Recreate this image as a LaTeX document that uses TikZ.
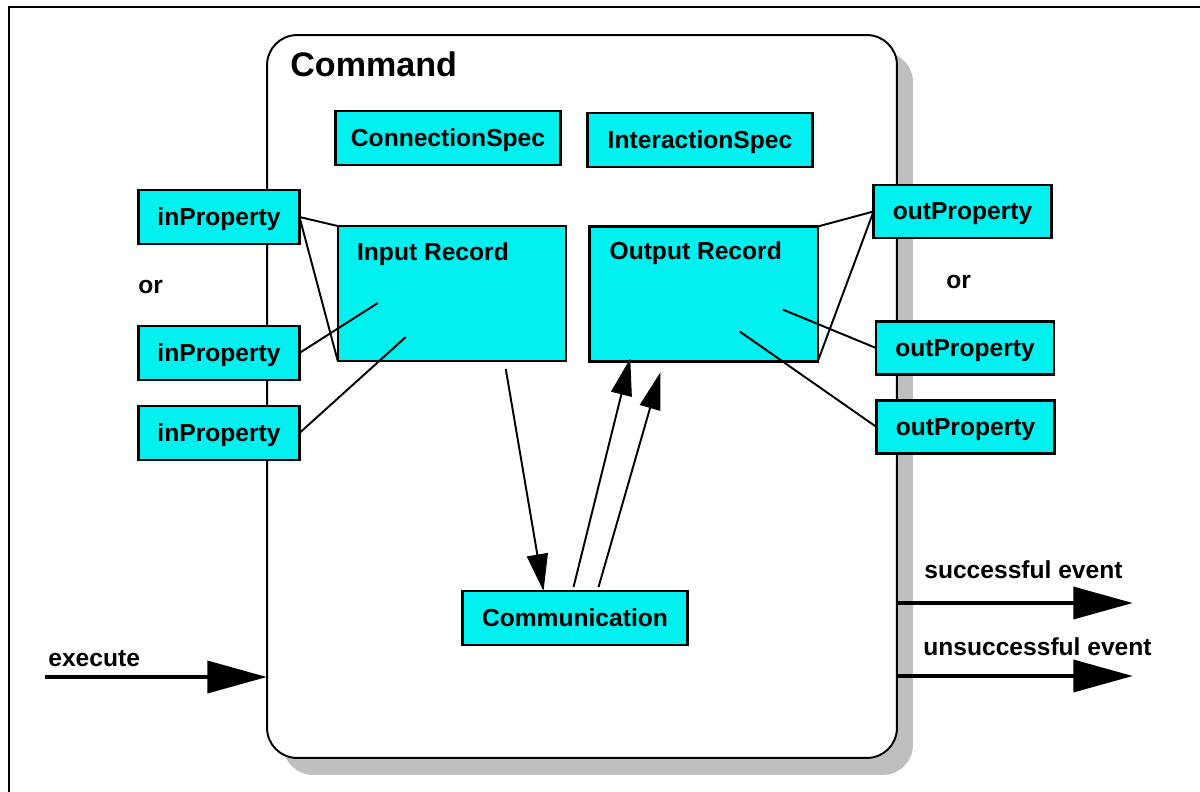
\documentclass[tikz,border=0pt]{standalone}
\usepackage{fontspec}
\setmainfont{Liberation Sans}
\usetikzlibrary{arrows.meta,calc,shadows}
\definecolor{boxcyan}{RGB}{0,240,240}
\begin{document}
\begin{tikzpicture}
[x=0.02cm, y=-0.02cm,
cmdbox/.style={rectangle,rounded corners=0.6cm,draw,line width=1.1pt,fill=white,outer sep=0pt,
  minimum width=12.6cm,minimum height=14.46cm,
  drop shadow={shadow xshift=0.32cm,shadow yshift=-0.34cm,fill=black!25,opacity=1}},
cyanbox/.style={rectangle,draw,line width=1.4pt,fill=boxcyan,inner sep=0pt,outer sep=0pt,
  text depth=0pt,font=\fontsize{14}{16}\selectfont\bfseries},
specbox/.style={cyanbox,minimum width=4.5cm,minimum height=1.08cm},
inprop/.style={cyanbox,minimum width=3.22cm,minimum height=1.08cm},
outprop/.style={cyanbox,minimum width=3.56cm,minimum height=1.06cm},
recbox/.style={cyanbox,minimum width=4.57cm,minimum height=2.7cm},
rectext/.style={anchor=west,inner sep=0pt,font=\fontsize{14}{16}\selectfont\bfseries},
label/.style={anchor=west,inner sep=0pt,font=\fontsize{14}{16}\selectfont\bfseries},
link/.style={line width=1.1pt},
flow/.style={line width=1.1pt,-{Triangle[length=21pt,width=12pt]}},
event/.style={line width=2.8pt,-{Triangle[length=34pt,width=18pt]}}
]
\useasboundingbox (0,0) rectangle (1200,791);
% frame
\draw[line width=0.9pt] (9,795) -- (9,7) -- (1205,7);

% command
\node[cmdbox] (cmd) at (582,396.5) {};
\node[anchor=west,inner sep=0pt,font=\fontsize{19.4}{22}\selectfont\bfseries] (cmdtitle) at (290,64) {Command};

\node[specbox] (conspec) at (448,138) {ConnectionSpec};
\node[specbox] (interspec) at (700,140) {InteractionSpec};

\node[recbox] (inrec) at (452,293.5) {};
\node[rectext] (inrectext) at ($(inrec.north west)+(19,28)$) {Input Record};
\node[recbox] (outrec) at (703.5,294) {};
\node[rectext] (outrectext) at ($(outrec.north west)+(20,27)$) {Output Record};

\node[specbox] (comm) at (575,618) {Communication};

% properties
\node[inprop] (inprop1) at (219,217) {inProperty};
\node[inprop] (inprop2) at (219,353) {inProperty};
\node[inprop] (inprop3) at (219,433) {inProperty};
\node[label] (inor) at (138,287) {or};

\node[outprop] (outprop1) at (962.5,211.5) {outProperty};
\node[outprop] (outprop2) at (965,348) {outProperty};
\node[outprop] (outprop3) at (965.5,427) {outProperty};
\node[label] (outor) at (946,282) {or};

% links
\draw[link] (inprop1.east) -- (inrec.north west);
\draw[link] (inprop1.east) -- (inrec.south west);
\draw[link] (inprop2.east) -- ($(inrec.north west)+(40,77)$);
\draw[link] (inprop3.east) -- ($(inrec.north west)+(68,111)$);
\draw[link] (outprop1.west) -- (outrec.north east);
\draw[link] (outprop1.west) -- (outrec.south east);
\draw[link] (outprop2.west) -- ($(outrec.north east)+(-35,83)$);
\draw[link] (outprop3.west) -- ($(outrec.north east)+(-78,105)$);

% flows
\draw[flow] ($(inrec.south west)+(168,8)$) -- ($(comm.north west)+(81,0)$);
\draw[flow] ($(comm.north west)+(111,-4)$) -- ($(outrec.south west)+(41,-3)$);
\draw[flow] ($(comm.north west)+(136,-4)$) -- ($(outrec.south west)+(71,11)$);

% events
\coordinate (exec) at (45,677);
\coordinate (succ) at (1133,603);
\coordinate (unsucc) at (1133,676);
\draw[event] (exec) -- (exec -| cmd.west);
\draw[event] (cmd.east |- succ) -- (succ);
\draw[event] (cmd.east |- unsucc) -- (unsucc);
\node[label] (execlabel) at (48,659) {execute};
\node[label] (succlabel) at (924,570) {successful event};
\node[label] (unsucclabel) at (923,647) {unsuccessful event};
\end{tikzpicture}
\end{document}
